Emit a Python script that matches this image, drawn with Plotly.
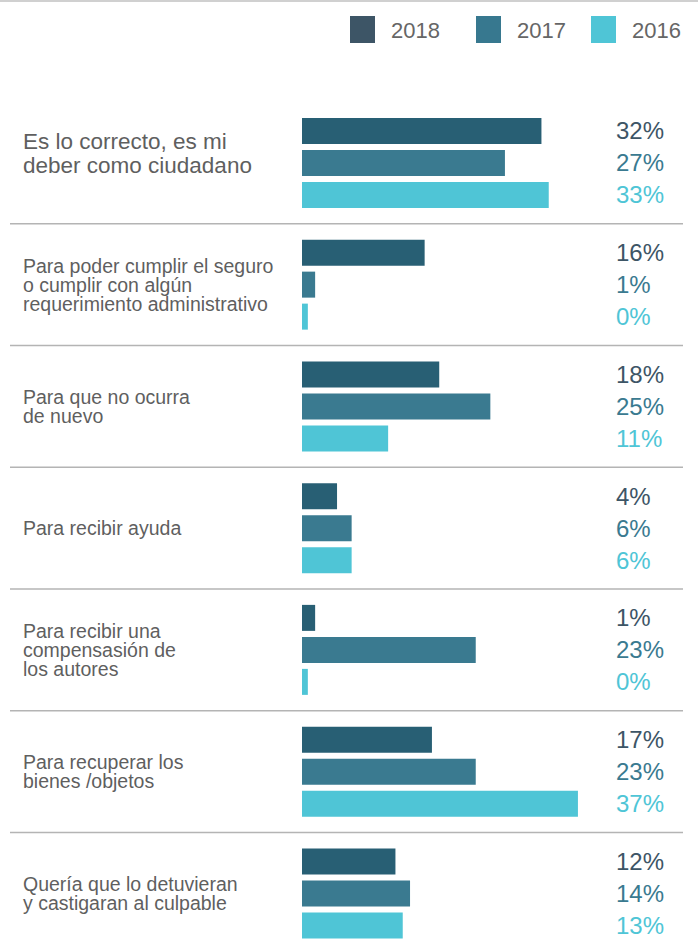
import plotly.graph_objects as go

# ---------------- data ----------------
categories = [
    ["Es lo correcto, es mi", "deber como ciudadano"],
    ["Para poder cumplir el seguro", "o cumplir con algún", "requerimiento administrativo"],
    ["Para que no ocurra", "de nuevo"],
    ["Para recibir ayuda"],
    ["Para recibir una", "compensasión de", "los autores"],
    ["Para recuperar los", "bienes /objetos"],
    ["Quería que lo detuvieran", "y castigaran al culpable"],
]
years = ["2018", "2017", "2016"]
values_2018 = [32, 16, 18, 4, 1, 17, 12]
values_2017 = [27, 1, 25, 6, 23, 23, 14]
values_2016 = [33, 0, 11, 6, 0, 37, 13]

# ---------------- style ----------------
W, H = 698, 944
bar_colors = {"2018": "#285f74", "2017": "#3a7a90", "2016": "#4fc5d6"}
label_colors = {"2018": "#3d5566", "2017": "#3a7a90", "2016": "#4fc5d6"}
legend_colors = {"2018": "#3d5566", "2017": "#37788f", "2016": "#4fc5d6"}
FONT = "Liberation Sans, Arial, Helvetica, sans-serif"
TEXT_GREY = "#5f5f5f"

group_px = 121.75          # pixel height of one category slot
pitch = 32 / group_px      # distance between bars inside a group (data units)
thick = 26 / group_px      # bar thickness (data units)
base = -0.8                # bars start slightly left of zero so 0% shows a sliver
px_per_unit = 7.3

plot_top_px = 102
ydomain_top = 1 - plot_top_px / H
n = len(categories)
y_range_bottom = (H - plot_top_px) / group_px - 0.5

series = {"2018": values_2018, "2017": values_2017, "2016": values_2016}

fig = go.Figure()
annotations = []
for j, yr in enumerate(years):
    vals = series[yr]
    ys = [i + (j - 1) * pitch for i in range(n)]
    fig.add_trace(go.Bar(
        x=[v - base for v in vals], y=ys, base=base, orientation="h",
        width=thick, marker=dict(color=bar_colors[yr], line=dict(width=0)),
        name=yr, showlegend=False, hoverinfo="skip",
    ))
    for v, y in zip(vals, ys):
        annotations.append(dict(
            x=614 / W, xref="paper", y=y, yref="y", xanchor="left", yanchor="middle",
            text=f"{v}%", showarrow=False,
            font=dict(family=FONT, size=24, color=label_colors[yr]),
        ))

# category labels, one annotation per line
for i, lines in enumerate(categories):
    big = i == 0
    size = 22.5 if big else 19.5
    spacing = 24 if big else 19
    k = len(lines)
    for li, line in enumerate(lines):
        annotations.append(dict(
            x=21 / W, xref="paper", y=i, yref="y", xanchor="left", yanchor="middle",
            yshift=-(li - (k - 1) / 2) * spacing + (9 if big else 0),
            text=line, showarrow=False,
            font=dict(family=FONT, size=size, color=TEXT_GREY),
        ))

# legend (manual, big square swatches)
legend_x = {"2018": 350, "2017": 476, "2016": 591}
shapes = []
for yr in years:
    x0 = legend_x[yr]
    shapes.append(dict(type="rect", xref="paper", yref="paper",
                       x0=x0 / W, x1=(x0 + 25) / W, y0=1 - 43 / H, y1=1 - 16 / H,
                       fillcolor=legend_colors[yr], line=dict(width=0)))
    annotations.append(dict(
        x=(x0 + 39) / W, xref="paper", y=1 - 30 / H, yref="paper",
        xanchor="left", yanchor="middle", text=yr, showarrow=False,
        font=dict(family=FONT, size=22, color="#666666"),
    ))

# separators between groups
for i in range(n - 1):
    shapes.append(dict(type="line", xref="paper", yref="y",
                       x0=10 / W, x1=683 / W, y0=i + 0.5, y1=i + 0.5,
                       line=dict(color="#b4b4b4", width=1.5)))
# top rule
shapes.append(dict(type="line", xref="paper", yref="paper",
                   x0=0, x1=1, y0=1 - 1 / H, y1=1 - 1 / H,
                   line=dict(color="#d0d0d0", width=2)))

fig.update_layout(
    width=W, height=H,
    margin=dict(l=0, r=0, t=0, b=0),
    paper_bgcolor="white", plot_bgcolor="white",
    barmode="overlay",
    xaxis=dict(domain=[302 / W, 1], range=[base, (W - 302) / px_per_unit + base],
               visible=False, fixedrange=True),
    yaxis=dict(domain=[0, ydomain_top], range=[y_range_bottom, -0.5],
               visible=False, fixedrange=True),
    shapes=shapes,
    annotations=annotations,
    showlegend=False,
)

fig.write_html("out.html", config={"displayModeBar": False},
               post_script="document.body.style.margin='0';document.body.style.overflow='hidden';")
